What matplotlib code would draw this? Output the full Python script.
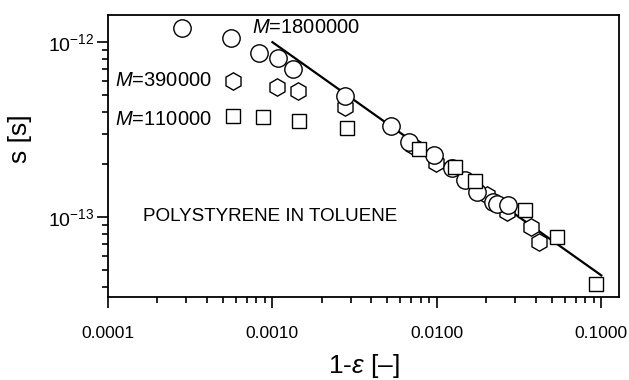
import matplotlib
matplotlib.use("Agg")
import matplotlib.pyplot as plt
import numpy as np
from matplotlib.ticker import FixedLocator, FixedFormatter, LogLocator, NullFormatter

plt.rcParams['font.family'] = ['Liberation Sans', 'DejaVu Sans']
plt.rcParams['mathtext.fontset'] = 'custom'
plt.rcParams['mathtext.rm'] = 'Liberation Sans'
plt.rcParams['mathtext.it'] = 'Liberation Sans:italic'

# M = 1800000 (circles)
x_c = [2.82e-4, 5.6e-4, 8.3e-4, 1.08e-3, 1.33e-3, 2.76e-3, 5.25e-3, 6.76e-3,
       9.6e-3, 1.23e-2, 1.48e-2, 1.75e-2, 2.19e-2, 2.32e-2, 2.70e-2]
y_c = [1.2e-12, 1.05e-12, 8.65e-13, 8.1e-13, 7.0e-13, 4.9e-13, 3.31e-13, 2.68e-13,
       2.26e-13, 1.91e-13, 1.63e-13, 1.39e-13, 1.22e-13, 1.19e-13, 1.17e-13]

# M = 390000 (hexagons)
x_h = [5.75e-4, 1.06e-3, 1.43e-3, 2.76e-3, 7.15e-3, 9.86e-3, 2.01e-2, 2.67e-2,
       3.73e-2, 4.17e-2]
y_h = [5.98e-13, 5.53e-13, 5.25e-13, 4.25e-13, 2.55e-13, 2.04e-13, 1.34e-13, 1.07e-13,
       8.77e-14, 7.2e-14]

# M = 110000 (squares)
x_s = [5.75e-4, 8.75e-4, 1.45e-3, 2.84e-3, 7.78e-3, 1.29e-2, 1.70e-2, 3.43e-2,
       5.36e-2, 9.27e-2]
y_s = [3.78e-13, 3.73e-13, 3.54e-13, 3.23e-13, 2.45e-13, 1.93e-13, 1.61e-13, 1.10e-13,
       7.69e-14, 4.14e-14]

# fitted line, slope -2/3
x_fit = [1e-3, 1e-1]
y_fit = [1e-12, 4.64e-14]

xticks = [1e-4, 1e-3, 1e-2, 1e-1]
xticklabels = ["0.0001", "0.0010", "0.0100", "0.1000"]
yticks = [1e-13, 1e-12]
yticklabels = [r"$10^{-13}$", r"$10^{-12}$"]

fig = plt.figure(figsize=(6.29, 3.80), dpi=100)
ax = fig.add_axes([0.1717, 0.2184, 0.8123, 0.7421])

ax.plot(x_fit, y_fit, color='black', lw=1.6, zorder=1)
ax.plot(x_h, y_h, 'h', ms=12.5, mfc='white', mec='black', mew=1.0, zorder=2)
ax.plot(x_c, y_c, 'o', ms=12.5, mfc='white', mec='black', mew=1.0, zorder=3)
ax.plot(x_s, y_s, 's', ms=10.5, mfc='white', mec='black', mew=1.0, zorder=4)

ax.set_xscale('log')
ax.set_yscale('log')
ax.set_xlim(1e-4, 0.128)
ax.set_ylim(3.49e-14, 1.43e-12)

ax.xaxis.set_major_locator(FixedLocator(xticks))
ax.xaxis.set_major_formatter(FixedFormatter(xticklabels))
ax.xaxis.set_minor_locator(LogLocator(base=10, subs=np.arange(2, 10)))
ax.xaxis.set_minor_formatter(NullFormatter())
ax.yaxis.set_major_locator(FixedLocator(yticks))
ax.yaxis.set_major_formatter(FixedFormatter(yticklabels))
ax.yaxis.set_minor_locator(LogLocator(base=10, subs=np.arange(2, 10)))
ax.yaxis.set_minor_formatter(NullFormatter())

ax.tick_params(which='major', direction='out', length=8, width=1.2, labelsize=12.5)
ax.tick_params(which='minor', direction='out', length=4.5, width=1.2)
ax.tick_params(axis='x', which='major', pad=13)
ax.tick_params(axis='y', which='major', pad=2, labelsize=14)
ax.tick_params(top=False, right=False, which='both')
for sp in ax.spines.values():
    sp.set_linewidth(1.3)

ax.set_xlabel(r"1-$\varepsilon$ [–]", fontsize=19, labelpad=8)
ax.set_ylabel("s [s]", fontsize=19)
ax.yaxis.set_label_coords(-0.148, 0.56)

ax.text(0.282, 0.954, r"$M$=1800000", transform=ax.transAxes, fontsize=14.5, va='center')
ax.text(0.0137, 0.766, r"$M$=390000", transform=ax.transAxes, fontsize=14.5, va='center')
ax.text(0.0137, 0.628, r"$M$=110000", transform=ax.transAxes, fontsize=14.5, va='center')
ax.text(0.0685, 0.287, "POLYSTYRENE IN TOLUENE", transform=ax.transAxes, fontsize=13.6,
        va='center')

fig.savefig("out.png", dpi=100)
